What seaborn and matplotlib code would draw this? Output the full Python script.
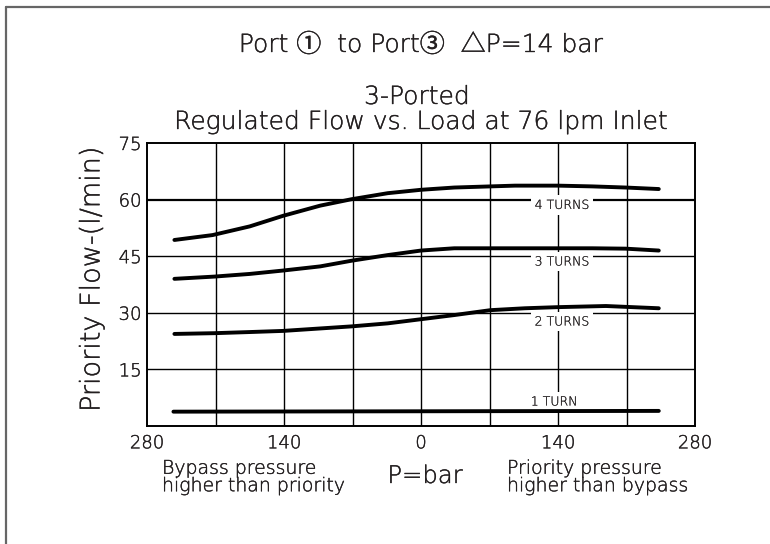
import matplotlib
matplotlib.use("Agg")
import matplotlib.pyplot as plt
import matplotlib.patheffects as pe
import seaborn as sns
import pandas as pd
from matplotlib.lines import Line2D

sns.set_theme(style="white")
plt.rcParams['font.family'] = ['DejaVu Sans', 'Noto Sans CJK SC']
plt.rcParams['font.weight'] = 'light'
plt.rcParams['axes.labelweight'] = 'light'

# ---- data ----
x4 = [-252, -213, -175, -141, -103, -71, -34, 0, 34, 71, 96, 140, 175, 209, 243]
y4 = [49.3, 50.6, 52.9, 55.7, 58.4, 60.1, 61.7, 62.6, 63.2, 63.5, 63.7, 63.7, 63.5, 63.2, 62.8]
x3 = [-252, -211, -175, -141, -103, -71, -34, 0, 34, 71, 140, 175, 209, 243]
y3 = [39.0, 39.6, 40.3, 41.2, 42.3, 43.8, 45.3, 46.5, 47.1, 47.1, 47.1, 47.1, 47.0, 46.5]
x2 = [-252, -211, -175, -141, -71, -34, 0, 34, 71, 106, 140, 189, 243]
y2 = [24.4, 24.6, 24.9, 25.2, 26.4, 27.2, 28.3, 29.4, 30.7, 31.2, 31.5, 31.8, 31.2]
x1 = [-253, 243]
y1 = [3.8, 4.0]
series_names = ["4 TURNS", "3 TURNS", "2 TURNS", "1 TURN"]
label_pos = [(144, 58.6), (144, 43.6), (144, 27.7), (136, 6.5)]

x_ticks = [-280, -140, 0, 140, 280]
x_ticklabels = ["280", "140", "0", "140", "280"]
y_ticks = [15, 30, 45, 60, 75]
y_ticklabels = ["15", "30", "45", "60", "75"]

title1 = "Port \u2460  to Port\u2462  \u25b3P=14 bar"
title2 = "3-Ported"
title3 = "Regulated Flow vs. Load at 76 lpm Inlet"
ylabel = "Priority Flow-(l/min)"
xlabel = "P=bar"
left_note = "Bypass pressure\nhigher than priority"
right_note = "Priority pressure\nhigher than bypass"

frames = []
for name, xs, ys in zip(series_names, [x4, x3, x2, x1], [y4, y3, y2, y1]):
    frames.append(pd.DataFrame({"P": xs, "Flow": ys, "Setting": name}))
df = pd.concat(frames, ignore_index=True)

txt = "#231f20"
stroke = [pe.withStroke(linewidth=0.25, foreground="#231f20")]
fig = plt.figure(figsize=(7.7, 5.44), dpi=100)
ax = fig.add_axes([147/770, 1-426/544, (695-147)/770, (426-143)/544])

# grid
for gx in range(-210, 280, 70):
    ax.axvline(gx, color="black", lw=1.0, zorder=1)
for gy in [15, 30, 45, 60]:
    ax.axhline(gy, color="black", lw=1.6 if gy == 60 else 1.0, zorder=1)

sns.lineplot(data=df, x="P", y="Flow", units="Setting", estimator=None,
             color="black", lw=2.8, ax=ax, zorder=3, sort=False)

for name, (lx, ly) in zip(series_names, label_pos):
    ax.text(lx, ly, name, ha="center", va="center", fontsize=9, color=txt,
            zorder=2, path_effects=[pe.withStroke(linewidth=0.12, foreground=txt)],
            bbox=dict(boxstyle="square,pad=0.3", fc="white", ec="none"))

ax.set_xlim(-280, 280)
ax.set_ylim(0, 75)
ax.set_xticks(x_ticks)
ax.set_xticklabels(x_ticklabels)
ax.set_yticks(y_ticks)
ax.set_yticklabels(y_ticklabels)
ax.tick_params(axis="both", length=0, labelsize=13, colors=txt)
ax.tick_params(axis="x", pad=6)
ax.tick_params(axis="y", pad=4)
for lab in ax.get_xticklabels() + ax.get_yticklabels():
    lab.set_path_effects(stroke)
ax.set_xlabel("")
ax.set_ylabel("")
for s in ax.spines.values():
    s.set_visible(True)
    s.set_color("black")
    s.set_linewidth(1.4)

kw = dict(color=txt, path_effects=stroke)
fig.text(92/770, 1-279/544, ylabel, ha="center", va="center", rotation=90,
         fontsize=19.5, **kw)
fig.text(421/770, 1-45/544, title1, ha="center", va="center", fontsize=18, **kw)
fig.text(417/770, 1-97/544, title2, ha="center", va="center", fontsize=18, **kw)
fig.text(421/770, 1-122/544, title3, ha="center", va="center", fontsize=18, **kw)
fig.text(425/770, 1-476/544, xlabel, ha="center", va="center", fontsize=17.5, **kw)
fig.text(162/770, 1-477/544, left_note, ha="left", va="center", fontsize=13.6,
         linespacing=0.9, **kw)
fig.text(507/770, 1-477/544, right_note, ha="left", va="center", fontsize=13.6,
         linespacing=0.9, **kw)

# outer frame (top and left only)
fig.add_artist(Line2D([6/770, 6/770], [0, 1-7/544], transform=fig.transFigure,
                      color="#666666", lw=1.6))
fig.add_artist(Line2D([6/770, 1], [1-7/544, 1-7/544], transform=fig.transFigure,
                      color="#666666", lw=1.6))

fig.savefig("out.png", dpi=100, facecolor="white")
